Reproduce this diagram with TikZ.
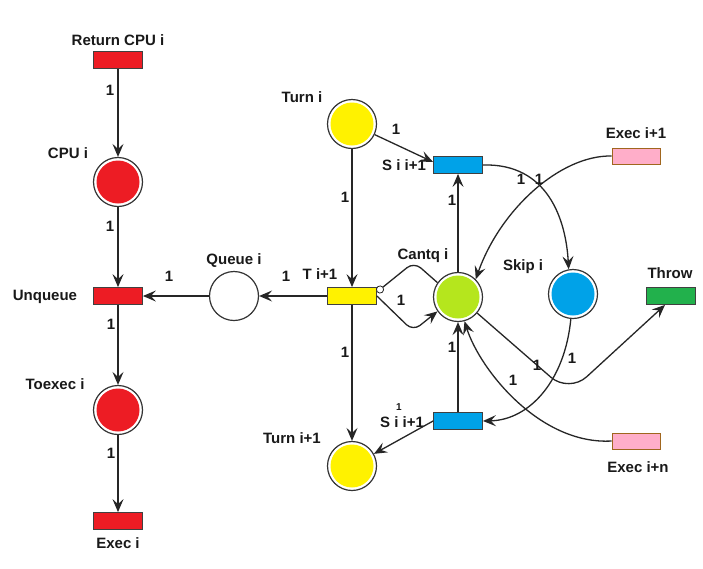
\documentclass[tikz,border=0pt]{standalone}
\usepackage{fontspec}
\setmainfont{Liberation Sans}
\usetikzlibrary{arrows.meta}
\definecolor{pred}{HTML}{ED1C24}
\definecolor{pyel}{HTML}{FFF200}
\definecolor{pblue}{HTML}{00A2E8}
\definecolor{plime}{HTML}{B5E61D}
\definecolor{pgreen}{HTML}{22B14C}
\definecolor{ppink}{HTML}{FFAEC9}
\definecolor{pbrown}{HTML}{A0661E}
\begin{document}
\begin{tikzpicture}[x=1pt,y=-1pt,
  place/.style={circle, draw=black!80, line width=1.2pt, fill=white, minimum size=49pt, inner sep=0pt,
    path picture={\fill[#1] (path picture bounding box.center) circle (21.5pt);}},
  trans/.style={rectangle, draw=black!75, line width=0.8pt, fill=#1, minimum width=49pt, minimum height=17pt, inner sep=0pt},
  lbl/.style={font=\fontsize{15}{17}\selectfont\bfseries, text=black!90, inner sep=0pt},
  wt/.style={lbl},
  arc/.style={draw=black!85, line width=1.3pt, -{Stealth[length=13pt,width=11pt,inset=5pt]}},
  inh/.style={draw=black!85, line width=1.3pt, -{Circle[fill=white,length=8pt,width=8pt,line width=0.8pt]}}]
\useasboundingbox (0,0) rectangle (703,568);
\fill[white] (0,0) rectangle (703,568);

% transitions and places
\node[trans=pred] (rcpu) at (118,60) {};
\node[place=pred] (cpu) at (118,182) {};
\node[trans=pred] (unq) at (118,296) {};
\node[place=white] (queue) at (234,296) {};
\node[place=pred] (toexec) at (118,410) {};
\node[trans=pred] (execi) at (118,521) {};
\node[place=pyel] (turni) at (352,124) {};
\node[trans=pyel] (ti1) at (352,296) {};
\node[place=pyel] (turnn) at (352,466) {};
\node[trans=pblue] (stop) at (458,165) {};
\node[place=plime] (cantq) at (458,297) {};
\node[place=pblue] (skip) at (573,294) {};
\node[trans=pgreen] (throw) at (671,296) {};
\node[trans=ppink, draw=pbrown, minimum width=48pt, minimum height=16pt] (exec1) at (636,156) {};
\node[trans=pblue] (sbot) at (458,421) {};
\node[trans=ppink, draw=pbrown, minimum width=48pt, minimum height=16pt] (execn) at (636,441) {};

% names
\node[lbl] (lrcpu) at (118,40) {Return CPU i};
\node[lbl] (lcpu) at (68,153) {CPU i};
\node[lbl] (lunq) at (45,297) {Unqueue};
\node[lbl] (lqueue) at (234,261) {Queue i};
\node[lbl] (ltoexec) at (55,384) {Toexec i};
\node[lbl] (lexeci) at (118,543) {Exec i};
\node[lbl] (lturni) at (302,97) {Turn i};
\node[lbl] (lti1) at (320,274) {T i+1};
\node[lbl] (lturnn) at (292,438) {Turn i+1};
\node[lbl] (lstop) at (404,165) {S i i+1};
\node[lbl] (lsbot) at (402,422) {S i i+1};
\node[lbl] (lcantq) at (423,256) {Cantq i};
\node[lbl] (lskip) at (523,267) {Skip i};
\node[lbl] (lthrow) at (670,273) {Throw};
\node[lbl] (lexec1) at (636,133) {Exec i+1};
\node[lbl] (lexecn) at (638,467) {Exec i+n};

% arcs
\draw[arc] (rcpu) -- (cpu);
\draw[arc] (cpu) -- (unq);
\draw[arc] (queue) -- (unq);
\draw[arc] (ti1) -- (queue);
\draw[arc] (unq) -- (toexec);
\draw[arc] (toexec) -- (execi);
\draw[arc] (turni) -- ([yshift=3pt]stop.west);
\draw[arc] (turni) -- (ti1);
\draw[arc] (ti1) -- (turnn);
\draw[arc] (cantq) -- (stop);
\draw[arc] (sbot) -- (cantq);
\draw[arc] (sbot.west) -- (turnn);
\draw[inh, rounded corners=9pt] (cantq.145) -- (414,262) -- ([yshift=4pt]ti1.east);
\draw[arc, rounded corners=9pt] (ti1.east) -- (413,331) -- (cantq.215);
\draw[arc] (stop.east) .. controls (548,163) and (566,220) .. (skip.100);
\draw[arc] (skip.265) .. controls (565,380) and (530,420) .. (sbot.east);
\draw[arc] (exec1.west) .. controls (560,155) and (500,210) .. (cantq.45);
\draw[arc] (execn.west) .. controls (540,445) and (480,370) .. (cantq.-75);
\draw[arc, rounded corners=24pt] (cantq.-40) -- (569,393) -- ([xshift=-6pt]throw.south);

% weights
\node[wt] (w1) at (110,90) {1};
\node[wt] (w2) at (110,226) {1};
\node[wt] (w3) at (169,276) {1};
\node[wt] (w4) at (286,276) {1};
\node[wt] (w5) at (111,324) {1};
\node[wt] (w6) at (111,453) {1};
\node[wt] (w7) at (345,197) {1};
\node[wt] (w8) at (345,352) {1};
\node[wt] (w9) at (396,129) {1};
\node[wt] (w10) at (452,200) {1};
\node[wt] (w11) at (521,179) {1};
\node[wt] (w12) at (539,179) {1};
\node[wt] (w13) at (401,300) {1};
\node[wt] (w14) at (452,347) {1};
\node[wt] (w15) at (513,380) {1};
\node[wt] (w16) at (537,365) {1};
\node[wt] (w17) at (572,358) {1};
\node[wt, font=\fontsize{10}{11}\selectfont\bfseries] (w18) at (399,407) {1};
\end{tikzpicture}
\end{document}
